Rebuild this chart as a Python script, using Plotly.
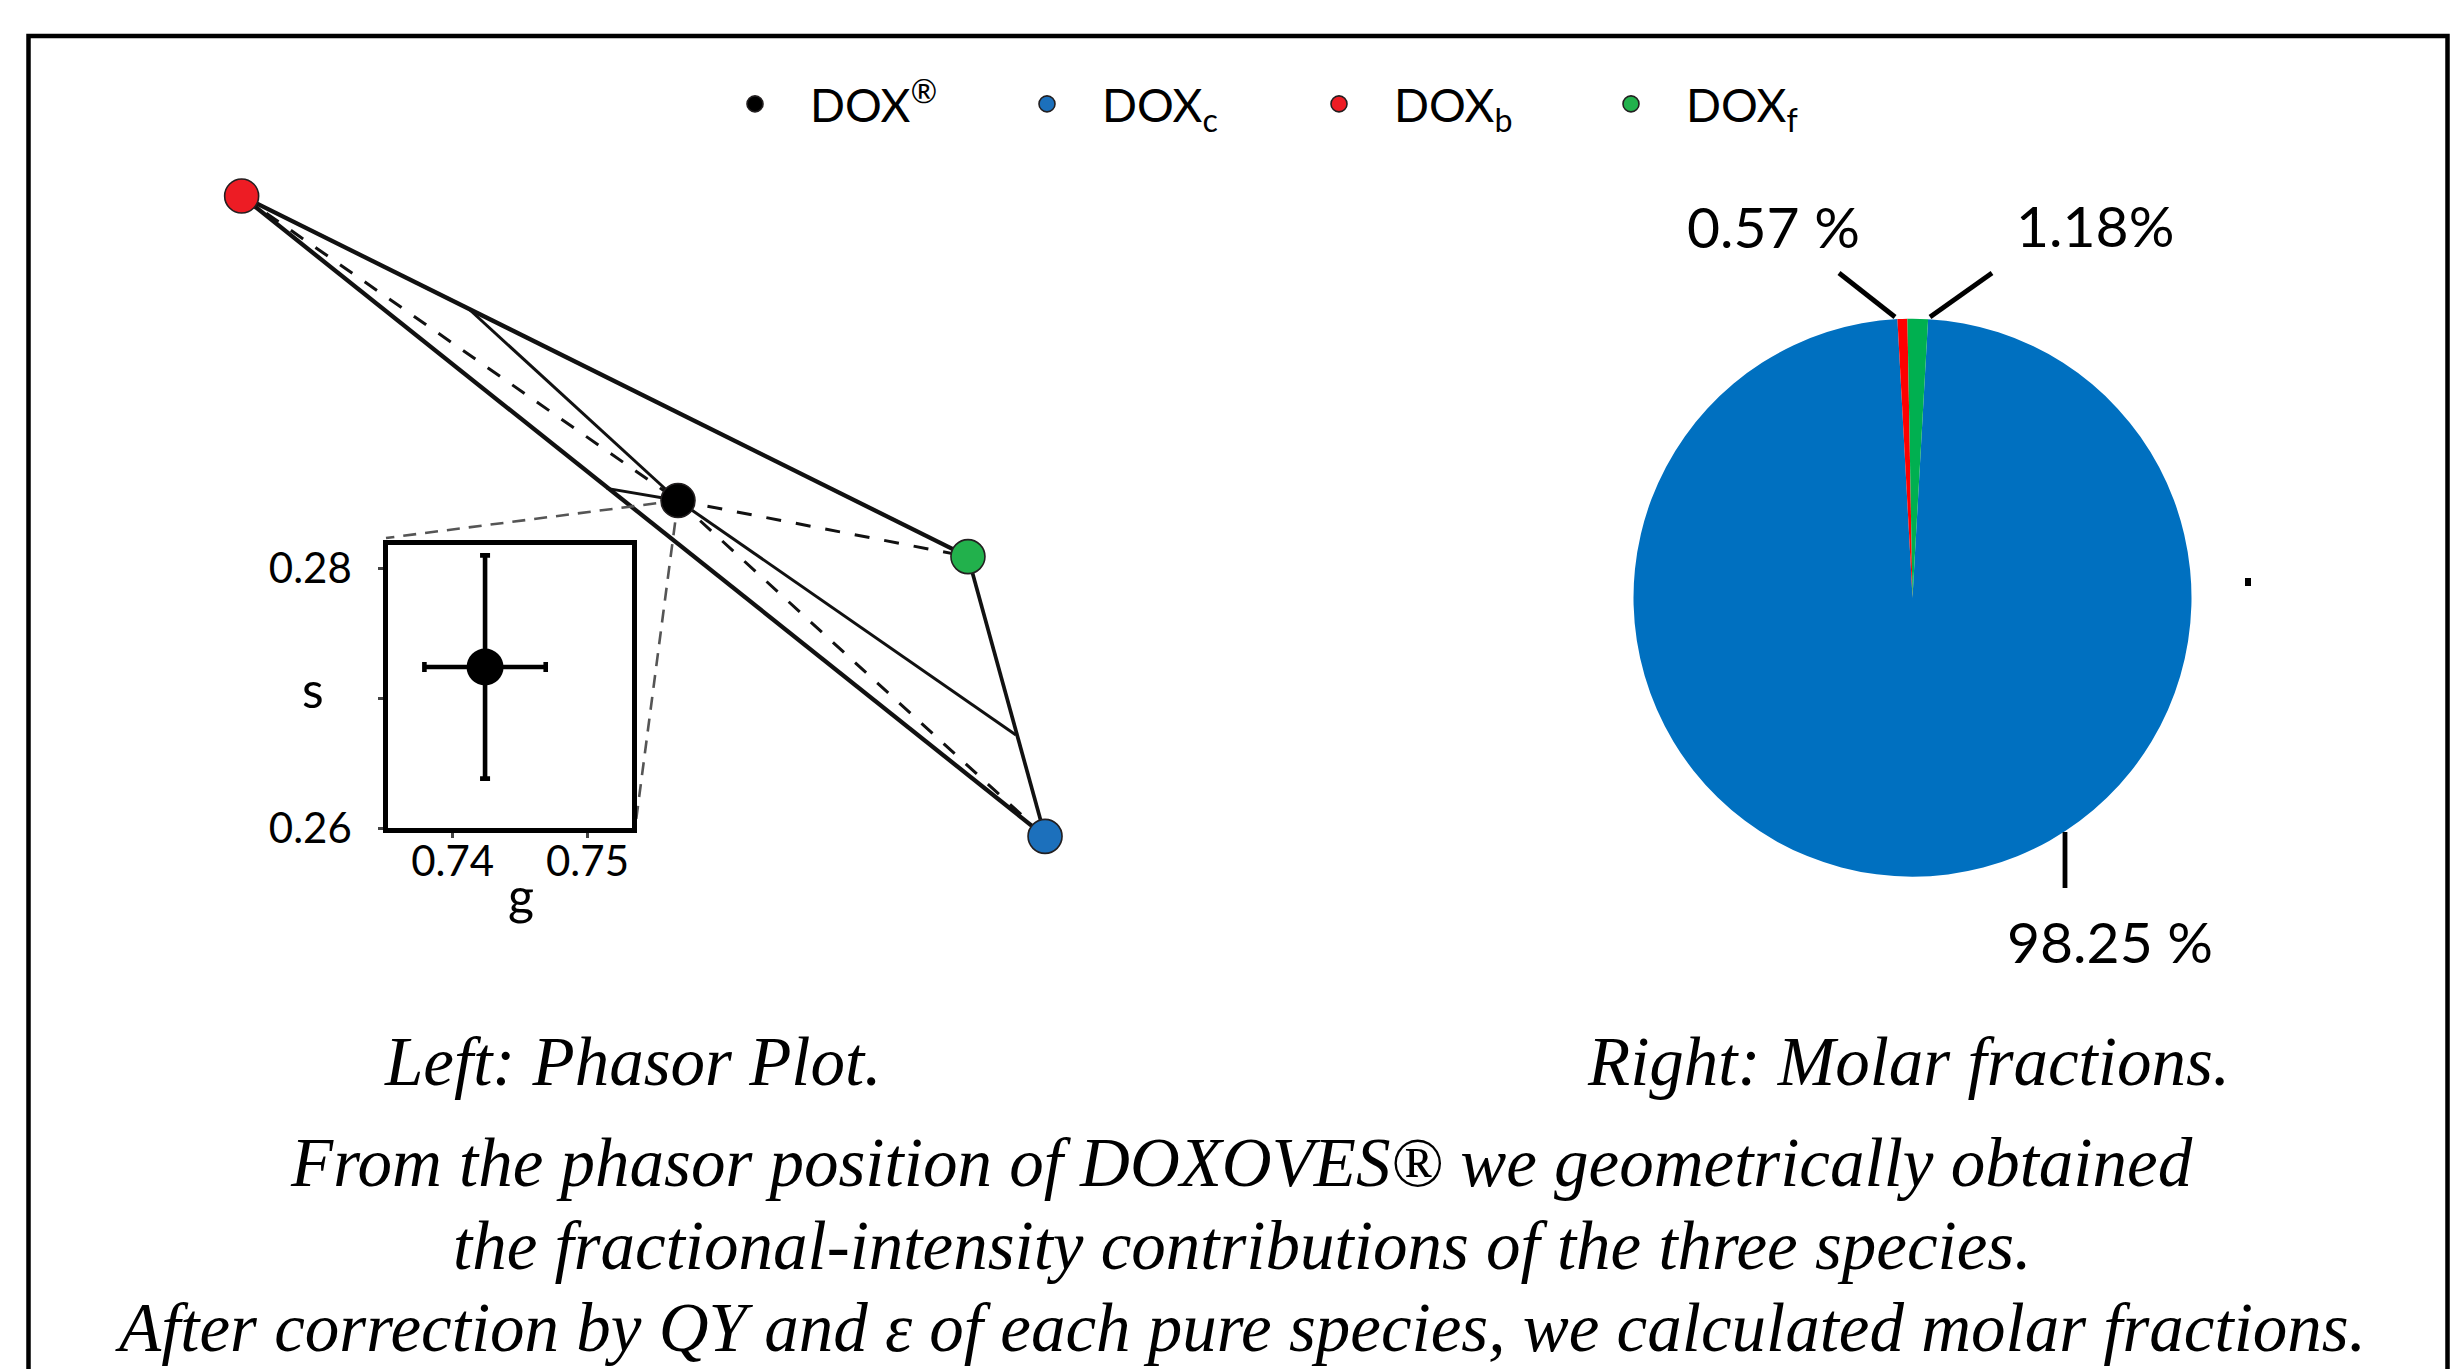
import plotly.graph_objects as go

W, H = 2453, 1369

# ---------------- data ----------------
species = ["DOX<sup>®</sup>", "DOX<sub>c</sub>", "DOX<sub>b</sub>", "DOX<sub>f</sub>"]
species_colors = ["#000000", "#1C70BC", "#ED1C24", "#22B14C"]

# phasor coordinates (g, s) of DOXOVES® and the three pure species
phasor_g = [0.7424, 0.9871, 0.4515, 0.9357]
phasor_s = [0.2724, 0.0485, 0.4754, 0.2350]

# construction points on the triangle edges (b-f, b-c, f-c)
edge_g = [0.6037, 0.6949, 0.9677]
edge_s = [0.3994, 0.2805, 0.1161]

# zoomed inset: DOXOVES® phasor with error bars
inset_g = [0.7424]
inset_s = [0.2724]
inset_g_err = [0.0045]
inset_s_err = [0.0086]
inset_x_ticks = [0.74, 0.75]
inset_x_ticktext = ["0.74", "0.75"]
inset_y_ticks = [0.26, 0.27, 0.28]
inset_y_ticktext = ["0.26", "", "0.28"]

# molar fractions
pie_labels = ["DOX<sub>c</sub>", "DOX<sub>b</sub>", "DOX<sub>f</sub>"]
molar_fraction = [98.25, 0.57, 1.18]
pie_colors = ["#0070C0", "#FF0000", "#00B050"]
pie_text = ["98.25 %", "0.57 %", "1.18%"]

captions = [
    "Left: Phasor Plot.",
    "Right: Molar fractions.",
    "From the phasor position of DOXOVES® we geometrically obtained",
    "the fractional-intensity contributions of the three species.",
    "After correction by QY and ε of each pure species, we calculated molar fractions.",
]

# ---------------- layout helpers ----------------
def px(x):
    return x / W

def py(y):
    return 1 - y / H

PX_PER_UNIT = 1500.0
MAIN_X_PX = (100, 1200)
MAIN_Y_PX = (150, 950)
main_x0 = 0.35707
main_y1 = 0.50607
main_xrange = [main_x0, main_x0 + (MAIN_X_PX[1] - MAIN_X_PX[0]) / PX_PER_UNIT]
main_yrange = [main_y1 - (MAIN_Y_PX[1] - MAIN_Y_PX[0]) / PX_PER_UNIT, main_y1]

def to_main(xp, yp):
    return (main_x0 + (xp - MAIN_X_PX[0]) / PX_PER_UNIT,
            main_y1 - (yp - MAIN_Y_PX[0]) / PX_PER_UNIT)

INSET_X_PX = (388, 632)
INSET_Y_PX = (545, 828)
PIE_X_PX = (1633.5, 2191.5)
PIE_Y_PX = (318.4, 877)

fig = go.Figure()

def seg_trace(pairs, width, dash, color):
    xs, ys = [], []
    for (a, b) in pairs:
        xs += [a[0], b[0], None]
        ys += [a[1], b[1], None]
    return go.Scatter(x=xs, y=ys, mode="lines", showlegend=False, hoverinfo="skip",
                      line=dict(color=color, width=width, dash=dash))

P = [(phasor_g[i], phasor_s[i]) for i in range(4)]
E = [(edge_g[i], edge_s[i]) for i in range(3)]
DOX, C, B, F = 0, 1, 2, 3

fig.add_trace(seg_trace([(P[B], P[F]), (P[B], P[C])], 4.3, "solid", "#111"))
fig.add_trace(seg_trace([(P[F], P[C])], 3.7, "solid", "#111"))
fig.add_trace(seg_trace([(E[0], P[DOX]), (P[DOX], E[2]), (E[1], P[DOX])], 3.0, "solid", "#111"))
fig.add_trace(seg_trace([(P[B], P[DOX]), (P[DOX], P[F]), (P[DOX], P[C])], 3.0, "15px,15px", "#111"))
tl = to_main(INSET_X_PX[0] - 2, INSET_Y_PX[0] - 7)
br = to_main(INSET_X_PX[1] + 4, INSET_Y_PX[1] - 7)
fig.add_trace(seg_trace([(P[DOX], tl), (P[DOX], br)], 2.6, "13px,9px", "#555"))

for i in range(4):
    fig.add_trace(go.Scatter(
        x=[phasor_g[i]], y=[phasor_s[i]], mode="markers", name=species[i],
        marker=dict(size=34, color=species_colors[i],
                    line=dict(width=1.6, color="#231F20")),
        xaxis="x", yaxis="y"))

fig.add_trace(go.Scatter(
    x=inset_g, y=inset_s, mode="markers", showlegend=False,
    marker=dict(size=37, color="black"),
    error_x=dict(type="data", array=inset_g_err, color="black", thickness=4.6, width=5),
    error_y=dict(type="data", array=inset_s_err, color="black", thickness=4.6, width=5),
    xaxis="x2", yaxis="y2"))

fig.add_trace(go.Pie(
    labels=pie_labels, values=molar_fraction, sort=False, direction="clockwise",
    rotation=3.2, marker=dict(colors=pie_colors, line=dict(width=0)),
    textinfo="none", showlegend=False,
    domain=dict(x=[px(PIE_X_PX[0]), px(PIE_X_PX[1])], y=[py(PIE_Y_PX[1]), py(PIE_Y_PX[0])])))

shapes = []
shapes.append(dict(type="path", xref="paper", yref="paper",
                   path=f"M {px(28.5)} {py(1369)} L {px(28.5)} {py(36)} L {px(2447.5)} {py(36)} L {px(2447.5)} {py(1369)}",
                   line=dict(color="black", width=4.5)))
for (x0, y0, x1, y1) in [(1839, 273, 1895, 317), (1992, 273, 1930, 317), (2065, 832, 2065, 888)]:
    shapes.append(dict(type="line", xref="paper", yref="paper",
                       x0=px(x0), y0=py(y0), x1=px(x1), y1=py(y1),
                       line=dict(color="black", width=4.8)))
shapes.append(dict(type="rect", xref="paper", yref="paper", x0=px(2245), x1=px(2251),
                   y0=py(586), y1=py(578), fillcolor="black", line=dict(width=0)))

annotations = []
label_pos = [(2110, 941), (1773, 226), (2095, 225)]
for t, (xx, yy) in zip(pie_text, label_pos):
    annotations.append(dict(text=t, x=px(xx), y=py(yy), xref="paper", yref="paper",
                            showarrow=False, xanchor="center", yanchor="middle",
                            font=dict(family="Lato", size=57, color="black")))
annotations.append(dict(text="s", x=px(313), y=py(689), xref="paper", yref="paper",
                        showarrow=False, xanchor="center", yanchor="middle",
                        font=dict(family="Lato", size=50, color="black")))
annotations.append(dict(text="g", x=px(521), y=py(895), xref="paper", yref="paper",
                        showarrow=False, xanchor="center", yanchor="middle",
                        font=dict(family="Lato", size=50, color="black")))
cap_pos = [(632, 1062), (1908, 1062), (1241, 1163), (1242, 1246), (1240, 1328)]
for t, (xx, yy) in zip(captions, cap_pos):
    annotations.append(dict(text=t, x=px(xx), y=py(yy), xref="paper", yref="paper",
                            showarrow=False, xanchor="center", yanchor="middle",
                            font=dict(family="Liberation Serif", size=69, color="black",
                                      style="italic")))

fig.update_layout(
    width=W, height=H, margin=dict(l=0, r=0, t=0, b=0, autoexpand=False),
    paper_bgcolor="white", plot_bgcolor="rgba(0,0,0,0)",
    font=dict(family="Lato", color="black"),
    xaxis=dict(domain=[px(MAIN_X_PX[0]), px(MAIN_X_PX[1])], range=main_xrange, visible=False),
    yaxis=dict(domain=[py(MAIN_Y_PX[1]), py(MAIN_Y_PX[0])], range=main_yrange, visible=False),
    xaxis2=dict(domain=[px(INSET_X_PX[0]), px(INSET_X_PX[1])], range=[0.7352, 0.7533],
                anchor="y2", showline=True, mirror=True, linewidth=4.6, linecolor="black",
                showgrid=False, zeroline=False, ticks="outside", ticklen=5, tickwidth=3,
                tickvals=inset_x_ticks, ticktext=inset_x_ticktext, ticklabelstandoff=-12,
                tickfont=dict(family="Lato", size=42, color="black")),
    yaxis2=dict(domain=[py(INSET_Y_PX[1]), py(INSET_Y_PX[0])], range=[0.26, 0.2818],
                anchor="x2", showline=True, mirror=True, linewidth=4.6, linecolor="black",
                showgrid=False, zeroline=False, ticks="outside", ticklen=5, tickwidth=3,
                tickvals=inset_y_ticks, ticktext=inset_y_ticktext, ticklabelstandoff=18,
                tickfont=dict(family="Lato", size=42, color="black")),
    legend=dict(orientation="h", x=px(700), y=py(104), xanchor="left", yanchor="middle",
                font=dict(family="Lato", size=46, color="black"),
                itemwidth=100, entrywidth=177, entrywidthmode="pixels",
                bgcolor="rgba(0,0,0,0)", borderwidth=0, itemclick=False),
    shapes=shapes, annotations=annotations,
)

fig.write_html("out.html", config={"displayModeBar": False},
               post_script="document.body.style.margin='0';")
